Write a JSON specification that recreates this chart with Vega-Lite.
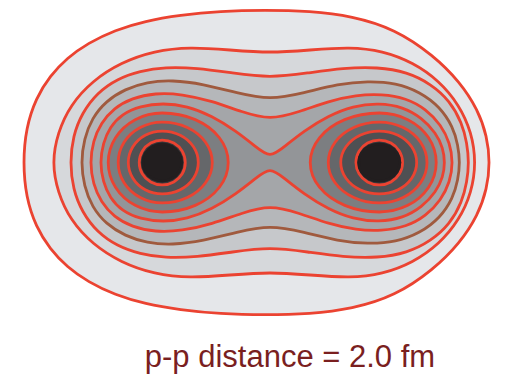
{
"$schema": "https://vega.github.io/schema/vega-lite/v6.json",
"width": 507, "height": 384,
"autosize": {"type": "fit", "contains": "padding"},
"padding": 0,
"background": "white",
"config": {"view": {"stroke": null}},
"datasets": {
"outer": [
{"c":"c01","i":1,"x":-2.283,"y":0},{"c":"c01","i":2,"x":-2.256,"y":0.318},{"c":"c01","i":3,"x":-2.164,"y":0.594},{"c":"c01","i":4,"x":-2.035,"y":0.797},{"c":"c01","i":5,"x":-1.878,"y":0.963},{"c":"c01","i":6,"x":-1.684,"y":1.101},{"c":"c01","i":7,"x":-1.435,"y":1.221},{"c":"c01","i":8,"x":-1.159,"y":1.304},{"c":"c01","i":9,"x":-0.836,"y":1.359},{"c":"c01","i":10,"x":-0.468,"y":1.396},{"c":"c01","i":11,"x":-0.053,"y":1.406},{"c":"c01","i":12,"x":0.362,"y":1.396},{"c":"c01","i":13,"x":0.749,"y":1.350},{"c":"c01","i":14,"x":1.145,"y":1.230},{"c":"c01","i":15,"x":1.495,"y":0.991},{"c":"c01","i":16,"x":1.744,"y":0.742},{"c":"c01","i":17,"x":1.910,"y":0.484},{"c":"c01","i":18,"x":1.993,"y":0.244},{"c":"c01","i":19,"x":2.021,"y":0},{"c":"c01","i":20,"x":1.993,"y":-0.244},{"c":"c01","i":21,"x":1.910,"y":-0.484},{"c":"c01","i":22,"x":1.744,"y":-0.742},{"c":"c01","i":23,"x":1.495,"y":-0.991},{"c":"c01","i":24,"x":1.145,"y":-1.230},{"c":"c01","i":25,"x":0.749,"y":-1.350},{"c":"c01","i":26,"x":0.362,"y":-1.396},{"c":"c01","i":27,"x":-0.053,"y":-1.406},{"c":"c01","i":28,"x":-0.468,"y":-1.396},{"c":"c01","i":29,"x":-0.836,"y":-1.359},{"c":"c01","i":30,"x":-1.159,"y":-1.304},{"c":"c01","i":31,"x":-1.435,"y":-1.221},{"c":"c01","i":32,"x":-1.684,"y":-1.101},{"c":"c01","i":33,"x":-1.878,"y":-0.963},{"c":"c01","i":34,"x":-2.035,"y":-0.797},{"c":"c01","i":35,"x":-2.164,"y":-0.594},{"c":"c01","i":36,"x":-2.256,"y":-0.318},
{"c":"c02","i":1,"x":-2.016,"y":0},{"c":"c02","i":2,"x":-1.964,"y":0.276},{"c":"c02","i":3,"x":-1.846,"y":0.532},{"c":"c02","i":4,"x":-1.644,"y":0.753},{"c":"c02","i":5,"x":-1.380,"y":0.922},{"c":"c02","i":6,"x":-1.073,"y":1.029},{"c":"c02","i":7,"x":-0.744,"y":1.065},{"c":"c02","i":8,"x":-0.376,"y":1.037},{"c":"c02","i":9,"x":-0.007,"y":1.009},{"c":"c02","i":10,"x":0.362,"y":1.037},{"c":"c02","i":11,"x":0.730,"y":1.065},{"c":"c02","i":12,"x":1.031,"y":1.029},{"c":"c02","i":13,"x":1.311,"y":0.922},{"c":"c02","i":14,"x":1.552,"y":0.753},{"c":"c02","i":15,"x":1.736,"y":0.532},{"c":"c02","i":16,"x":1.852,"y":0.276},{"c":"c02","i":17,"x":1.892,"y":0},{"c":"c02","i":18,"x":1.852,"y":-0.276},{"c":"c02","i":19,"x":1.736,"y":-0.532},{"c":"c02","i":20,"x":1.552,"y":-0.753},{"c":"c02","i":21,"x":1.311,"y":-0.922},{"c":"c02","i":22,"x":1.031,"y":-1.029},{"c":"c02","i":23,"x":0.730,"y":-1.065},{"c":"c02","i":24,"x":0.362,"y":-1.037},{"c":"c02","i":25,"x":-0.007,"y":-1.009},{"c":"c02","i":26,"x":-0.376,"y":-1.037},{"c":"c02","i":27,"x":-0.744,"y":-1.065},{"c":"c02","i":28,"x":-1.073,"y":-1.029},{"c":"c02","i":29,"x":-1.380,"y":-0.922},{"c":"c02","i":30,"x":-1.644,"y":-0.753},{"c":"c02","i":31,"x":-1.846,"y":-0.532},{"c":"c02","i":32,"x":-1.964,"y":-0.276},
{"c":"c03","i":1,"x":-1.850,"y":0},{"c":"c03","i":2,"x":-1.823,"y":0.244},{"c":"c03","i":3,"x":-1.740,"y":0.456},{"c":"c03","i":4,"x":-1.601,"y":0.641},{"c":"c03","i":5,"x":-1.417,"y":0.770},{"c":"c03","i":6,"x":-1.205,"y":0.843},{"c":"c03","i":7,"x":-0.975,"y":0.880},{"c":"c03","i":8,"x":-0.680,"y":0.871},{"c":"c03","i":9,"x":-0.357,"y":0.825},{"c":"c03","i":10,"x":-0.007,"y":0.779},{"c":"c03","i":11,"x":0.343,"y":0.825},{"c":"c03","i":12,"x":0.666,"y":0.871},{"c":"c03","i":13,"x":0.988,"y":0.880},{"c":"c03","i":14,"x":1.256,"y":0.834},{"c":"c03","i":15,"x":1.477,"y":0.724},{"c":"c03","i":16,"x":1.652,"y":0.567},{"c":"c03","i":17,"x":1.763,"y":0.364},{"c":"c03","i":18,"x":1.809,"y":0.180},{"c":"c03","i":19,"x":1.827,"y":0},{"c":"c03","i":20,"x":1.809,"y":-0.180},{"c":"c03","i":21,"x":1.763,"y":-0.364},{"c":"c03","i":22,"x":1.652,"y":-0.567},{"c":"c03","i":23,"x":1.477,"y":-0.724},{"c":"c03","i":24,"x":1.256,"y":-0.834},{"c":"c03","i":25,"x":0.988,"y":-0.880},{"c":"c03","i":26,"x":0.666,"y":-0.871},{"c":"c03","i":27,"x":0.343,"y":-0.825},{"c":"c03","i":28,"x":-0.007,"y":-0.779},{"c":"c03","i":29,"x":-0.357,"y":-0.825},{"c":"c03","i":30,"x":-0.680,"y":-0.871},{"c":"c03","i":31,"x":-0.975,"y":-0.880},{"c":"c03","i":32,"x":-1.205,"y":-0.843},{"c":"c03","i":33,"x":-1.417,"y":-0.770},{"c":"c03","i":34,"x":-1.601,"y":-0.641},{"c":"c03","i":35,"x":-1.740,"y":-0.456},{"c":"c03","i":36,"x":-1.823,"y":-0.244},
{"c":"c04","i":1,"x":-1.749,"y":0},{"c":"c04","i":2,"x":-1.721,"y":0.217},{"c":"c04","i":3,"x":-1.647,"y":0.410},{"c":"c04","i":4,"x":-1.518,"y":0.567},{"c":"c04","i":5,"x":-1.343,"y":0.677},{"c":"c04","i":6,"x":-1.141,"y":0.742},{"c":"c04","i":7,"x":-0.910,"y":0.760},{"c":"c04","i":8,"x":-0.624,"y":0.724},{"c":"c04","i":9,"x":-0.311,"y":0.641},{"c":"c04","i":10,"x":-0.007,"y":0.576},{"c":"c04","i":11,"x":0.306,"y":0.641},{"c":"c04","i":12,"x":0.620,"y":0.724},{"c":"c04","i":13,"x":0.896,"y":0.751},{"c":"c04","i":14,"x":1.154,"y":0.733},{"c":"c04","i":15,"x":1.376,"y":0.650},{"c":"c04","i":16,"x":1.560,"y":0.512},{"c":"c04","i":17,"x":1.680,"y":0.327},{"c":"c04","i":18,"x":1.726,"y":0.161},{"c":"c04","i":19,"x":1.744,"y":0},{"c":"c04","i":20,"x":1.726,"y":-0.161},{"c":"c04","i":21,"x":1.680,"y":-0.327},{"c":"c04","i":22,"x":1.560,"y":-0.512},{"c":"c04","i":23,"x":1.376,"y":-0.650},{"c":"c04","i":24,"x":1.154,"y":-0.733},{"c":"c04","i":25,"x":0.896,"y":-0.751},{"c":"c04","i":26,"x":0.620,"y":-0.724},{"c":"c04","i":27,"x":0.306,"y":-0.641},{"c":"c04","i":28,"x":-0.007,"y":-0.576},{"c":"c04","i":29,"x":-0.311,"y":-0.641},{"c":"c04","i":30,"x":-0.624,"y":-0.724},{"c":"c04","i":31,"x":-0.910,"y":-0.760},{"c":"c04","i":32,"x":-1.141,"y":-0.742},{"c":"c04","i":33,"x":-1.343,"y":-0.677},{"c":"c04","i":34,"x":-1.518,"y":-0.567},{"c":"c04","i":35,"x":-1.647,"y":-0.410},{"c":"c04","i":36,"x":-1.721,"y":-0.217},
{"c":"c05","i":1,"x":-1.666,"y":0},{"c":"c05","i":2,"x":-1.638,"y":0.198},{"c":"c05","i":3,"x":-1.565,"y":0.364},{"c":"c05","i":4,"x":-1.445,"y":0.502},{"c":"c05","i":5,"x":-1.279,"y":0.594},{"c":"c05","i":6,"x":-1.067,"y":0.641},{"c":"c05","i":7,"x":-0.818,"y":0.631},{"c":"c05","i":8,"x":-0.541,"y":0.567},{"c":"c05","i":9,"x":-0.265,"y":0.465},{"c":"c05","i":10,"x":-0.007,"y":0.392},{"c":"c05","i":11,"x":0.260,"y":0.465},{"c":"c05","i":12,"x":0.537,"y":0.567},{"c":"c05","i":13,"x":0.786,"y":0.622},{"c":"c05","i":14,"x":1.025,"y":0.631},{"c":"c05","i":15,"x":1.247,"y":0.594},{"c":"c05","i":16,"x":1.431,"y":0.493},{"c":"c05","i":17,"x":1.569,"y":0.346},{"c":"c05","i":18,"x":1.652,"y":0.180},{"c":"c05","i":19,"x":1.680,"y":0},{"c":"c05","i":20,"x":1.652,"y":-0.180},{"c":"c05","i":21,"x":1.569,"y":-0.346},{"c":"c05","i":22,"x":1.431,"y":-0.493},{"c":"c05","i":23,"x":1.247,"y":-0.594},{"c":"c05","i":24,"x":1.025,"y":-0.631},{"c":"c05","i":25,"x":0.786,"y":-0.622},{"c":"c05","i":26,"x":0.537,"y":-0.567},{"c":"c05","i":27,"x":0.260,"y":-0.465},{"c":"c05","i":28,"x":-0.007,"y":-0.392},{"c":"c05","i":29,"x":-0.265,"y":-0.465},{"c":"c05","i":30,"x":-0.541,"y":-0.567},{"c":"c05","i":31,"x":-0.818,"y":-0.631},{"c":"c05","i":32,"x":-1.067,"y":-0.641},{"c":"c05","i":33,"x":-1.279,"y":-0.594},{"c":"c05","i":34,"x":-1.445,"y":-0.502},{"c":"c05","i":35,"x":-1.565,"y":-0.364},{"c":"c05","i":36,"x":-1.638,"y":-0.198},
{"c":"c06","i":1,"x":-1.574,"y":0},{"c":"c06","i":2,"x":-1.546,"y":0.180},{"c":"c06","i":3,"x":-1.482,"y":0.327},{"c":"c06","i":4,"x":-1.371,"y":0.447},{"c":"c06","i":5,"x":-1.205,"y":0.521},{"c":"c06","i":6,"x":-0.993,"y":0.548},{"c":"c06","i":7,"x":-0.772,"y":0.521},{"c":"c06","i":8,"x":-0.541,"y":0.429},{"c":"c06","i":9,"x":-0.320,"y":0.290},{"c":"c06","i":10,"x":-0.136,"y":0.143},{"c":"c06","i":11,"x":-0.007,"y":0.040},{"c":"c06","i":12,"x":0.122,"y":0.143},{"c":"c06","i":13,"x":0.306,"y":0.290},{"c":"c06","i":14,"x":0.528,"y":0.429},{"c":"c06","i":15,"x":0.758,"y":0.521},{"c":"c06","i":16,"x":0.998,"y":0.548},{"c":"c06","i":17,"x":1.219,"y":0.512},{"c":"c06","i":18,"x":1.394,"y":0.410},{"c":"c06","i":19,"x":1.523,"y":0.272},{"c":"c06","i":20,"x":1.588,"y":0.134},{"c":"c06","i":21,"x":1.606,"y":0},{"c":"c06","i":22,"x":1.588,"y":-0.134},{"c":"c06","i":23,"x":1.523,"y":-0.272},{"c":"c06","i":24,"x":1.394,"y":-0.410},{"c":"c06","i":25,"x":1.219,"y":-0.512},{"c":"c06","i":26,"x":0.998,"y":-0.548},{"c":"c06","i":27,"x":0.758,"y":-0.521},{"c":"c06","i":28,"x":0.528,"y":-0.429},{"c":"c06","i":29,"x":0.306,"y":-0.290},{"c":"c06","i":30,"x":0.122,"y":-0.143},{"c":"c06","i":31,"x":-0.007,"y":-0.040},{"c":"c06","i":32,"x":-0.136,"y":-0.143},{"c":"c06","i":33,"x":-0.320,"y":-0.290},{"c":"c06","i":34,"x":-0.541,"y":-0.429},{"c":"c06","i":35,"x":-0.772,"y":-0.521},{"c":"c06","i":36,"x":-0.993,"y":-0.548},{"c":"c06","i":37,"x":-1.205,"y":-0.521},{"c":"c06","i":38,"x":-1.371,"y":-0.447},{"c":"c06","i":39,"x":-1.482,"y":-0.327},{"c":"c06","i":40,"x":-1.546,"y":-0.180}
],
"rings": [
{"c":"c07L","i":1,"x":-1.498,"y":0},{"c":"c07L","i":2,"x":-1.431,"y":0.228},{"c":"c07L","i":3,"x":-1.249,"y":0.395},{"c":"c07L","i":4,"x":-1,"y":0.456},{"c":"c07L","i":5,"x":-0.696,"y":0.395},{"c":"c07L","i":6,"x":-0.473,"y":0.228},{"c":"c07L","i":7,"x":-0.392,"y":0},{"c":"c07L","i":8,"x":-0.473,"y":-0.228},{"c":"c07L","i":9,"x":-0.696,"y":-0.395},{"c":"c07L","i":10,"x":-1,"y":-0.456},{"c":"c07L","i":11,"x":-1.249,"y":-0.395},{"c":"c07L","i":12,"x":-1.431,"y":-0.228},
{"c":"c07R","i":1,"x":1.525,"y":0},{"c":"c07R","i":2,"x":1.455,"y":0.228},{"c":"c07R","i":3,"x":1.263,"y":0.395},{"c":"c07R","i":4,"x":1,"y":0.456},{"c":"c07R","i":5,"x":0.682,"y":0.395},{"c":"c07R","i":6,"x":0.449,"y":0.228},{"c":"c07R","i":7,"x":0.364,"y":0},{"c":"c07R","i":8,"x":0.449,"y":-0.228},{"c":"c07R","i":9,"x":0.682,"y":-0.395},{"c":"c07R","i":10,"x":1,"y":-0.456},{"c":"c07R","i":11,"x":1.263,"y":-0.395},{"c":"c07R","i":12,"x":1.455,"y":-0.228},
{"c":"c08L","i":1,"x":-1.406,"y":0},{"c":"c08L","i":2,"x":-1.352,"y":0.187},{"c":"c08L","i":3,"x":-1.203,"y":0.323},{"c":"c08L","i":4,"x":-1,"y":0.373},{"c":"c08L","i":5,"x":-0.769,"y":0.323},{"c":"c08L","i":6,"x":-0.601,"y":0.187},{"c":"c08L","i":7,"x":-0.539,"y":0},{"c":"c08L","i":8,"x":-0.601,"y":-0.187},{"c":"c08L","i":9,"x":-0.769,"y":-0.323},{"c":"c08L","i":10,"x":-1,"y":-0.373},{"c":"c08L","i":11,"x":-1.203,"y":-0.323},{"c":"c08L","i":12,"x":-1.352,"y":-0.187},
{"c":"c08R","i":1,"x":1.44,"y":0},{"c":"c08R","i":2,"x":1.381,"y":0.187},{"c":"c08R","i":3,"x":1.22,"y":0.323},{"c":"c08R","i":4,"x":1,"y":0.373},{"c":"c08R","i":5,"x":0.765,"y":0.323},{"c":"c08R","i":6,"x":0.593,"y":0.187},{"c":"c08R","i":7,"x":0.53,"y":0},{"c":"c08R","i":8,"x":0.593,"y":-0.187},{"c":"c08R","i":9,"x":0.765,"y":-0.323},{"c":"c08R","i":10,"x":1,"y":-0.373},{"c":"c08R","i":11,"x":1.22,"y":-0.323},{"c":"c08R","i":12,"x":1.381,"y":-0.187},
{"c":"c09L","i":1,"x":-1.313,"y":0},{"c":"c09L","i":2,"x":-1.271,"y":0.145},{"c":"c09L","i":3,"x":-1.157,"y":0.251},{"c":"c09L","i":4,"x":-1,"y":0.29},{"c":"c09L","i":5,"x":-0.834,"y":0.251},{"c":"c09L","i":6,"x":-0.712,"y":0.145},{"c":"c09L","i":7,"x":-0.668,"y":0},{"c":"c09L","i":8,"x":-0.712,"y":-0.145},{"c":"c09L","i":9,"x":-0.834,"y":-0.251},{"c":"c09L","i":10,"x":-1,"y":-0.29},{"c":"c09L","i":11,"x":-1.157,"y":-0.251},{"c":"c09L","i":12,"x":-1.271,"y":-0.145},
{"c":"c09R","i":1,"x":1.345,"y":0},{"c":"c09R","i":2,"x":1.299,"y":0.145},{"c":"c09R","i":3,"x":1.173,"y":0.251},{"c":"c09R","i":4,"x":1,"y":0.29},{"c":"c09R","i":5,"x":0.823,"y":0.251},{"c":"c09R","i":6,"x":0.693,"y":0.145},{"c":"c09R","i":7,"x":0.645,"y":0},{"c":"c09R","i":8,"x":0.693,"y":-0.145},{"c":"c09R","i":9,"x":0.823,"y":-0.251},{"c":"c09R","i":10,"x":1,"y":-0.29},{"c":"c09R","i":11,"x":1.173,"y":-0.251},{"c":"c09R","i":12,"x":1.299,"y":-0.145},
{"c":"c10L","i":1,"x":-1.212,"y":0},{"c":"c10L","i":2,"x":-1.184,"y":0.104},{"c":"c10L","i":3,"x":-1.106,"y":0.179},{"c":"c10L","i":4,"x":-1,"y":0.207},{"c":"c10L","i":5,"x":-0.894,"y":0.179},{"c":"c10L","i":6,"x":-0.816,"y":0.104},{"c":"c10L","i":7,"x":-0.788,"y":0},{"c":"c10L","i":8,"x":-0.816,"y":-0.104},{"c":"c10L","i":9,"x":-0.894,"y":-0.179},{"c":"c10L","i":10,"x":-1,"y":-0.207},{"c":"c10L","i":11,"x":-1.106,"y":-0.179},{"c":"c10L","i":12,"x":-1.184,"y":-0.104},
{"c":"c10R","i":1,"x":1.215,"y":0},{"c":"c10R","i":2,"x":1.186,"y":0.104},{"c":"c10R","i":3,"x":1.108,"y":0.179},{"c":"c10R","i":4,"x":1,"y":0.207},{"c":"c10R","i":5,"x":0.892,"y":0.179},{"c":"c10R","i":6,"x":0.814,"y":0.104},{"c":"c10R","i":7,"x":0.785,"y":0},{"c":"c10R","i":8,"x":0.814,"y":-0.104},{"c":"c10R","i":9,"x":0.892,"y":-0.179},{"c":"c10R","i":10,"x":1,"y":-0.207},{"c":"c10R","i":11,"x":1.108,"y":-0.179},{"c":"c10R","i":12,"x":1.186,"y":-0.104},
{"c":"c11L","i":1,"x":-1.18,"y":0},{"c":"c11L","i":2,"x":-1.156,"y":0.086},{"c":"c11L","i":3,"x":-1.09,"y":0.148},{"c":"c11L","i":4,"x":-1,"y":0.171},{"c":"c11L","i":5,"x":-0.91,"y":0.148},{"c":"c11L","i":6,"x":-0.844,"y":0.086},{"c":"c11L","i":7,"x":-0.82,"y":0},{"c":"c11L","i":8,"x":-0.844,"y":-0.086},{"c":"c11L","i":9,"x":-0.91,"y":-0.148},{"c":"c11L","i":10,"x":-1,"y":-0.171},{"c":"c11L","i":11,"x":-1.09,"y":-0.148},{"c":"c11L","i":12,"x":-1.156,"y":-0.086},
{"c":"c11R","i":1,"x":1.19,"y":0},{"c":"c11R","i":2,"x":1.165,"y":0.086},{"c":"c11R","i":3,"x":1.095,"y":0.149},{"c":"c11R","i":4,"x":1,"y":0.172},{"c":"c11R","i":5,"x":0.905,"y":0.149},{"c":"c11R","i":6,"x":0.835,"y":0.086},{"c":"c11R","i":7,"x":0.81,"y":0},{"c":"c11R","i":8,"x":0.835,"y":-0.086},{"c":"c11R","i":9,"x":0.905,"y":-0.149},{"c":"c11R","i":10,"x":1,"y":-0.172},{"c":"c11R","i":11,"x":1.095,"y":-0.149},{"c":"c11R","i":12,"x":1.165,"y":-0.086}
],
"labels": [{"x": 0.177, "y": -1.885, "label": "p-p distance = 2.0 fm"}]
},
"encoding": {
"x": {"field": "x", "type": "quantitative", "scale": {"domain": [-2.4954, 2.1774], "nice": false, "zero": false}, "axis": null},
"y": {"field": "y", "type": "quantitative", "scale": {"domain": [-2.0415, 1.4977], "nice": false, "zero": false}, "axis": null}
},
"layer": [
{
"data": {"name": "outer"},
"mark": {"type": "line", "interpolate": "basis-closed", "strokeWidth": 2.8, "strokeJoin": "round"},
"encoding": {
"order": {"field": "i", "type": "quantitative"},
"fill": {"field": "c", "type": "nominal", "legend": null, "scale": {
"domain": ["c01","c02","c03","c04","c05","c06","c07L","c07R","c08L","c08R","c09L","c09R","c10L","c10R","c11L","c11R"],
"range": ["#e5e7ea","#d6d8db","#c6c8cb","#b5b7ba","#a4a6a9","#939598","#7c7e81","#7c7e81","#65676a","#65676a","#4f5053","#4f5053","#38383b","#38383b","#221e1f","#221e1f"]}},
"stroke": {"field": "c", "type": "nominal", "legend": null, "scale": {
"domain": ["c01","c02","c03","c04","c05","c06","c07L","c07R","c08L","c08R","c09L","c09R","c10L","c10R","c11L","c11R"],
"range": ["#eb4331","#eb4331","#eb4331","#a05a3e","#eb4331","#eb4331","#eb4331","#eb4331","#eb4331","#eb4331","#eb4331","#eb4331","#eb4331","#eb4331","#221e1f","#221e1f"]}}
}
},
{
"data": {"name": "rings"},
"mark": {"type": "line", "interpolate": "cardinal-closed", "strokeWidth": 2.8, "strokeJoin": "round"},
"encoding": {
"order": {"field": "i", "type": "quantitative"},
"fill": {"field": "c", "type": "nominal", "legend": null, "scale": {
"domain": ["c01","c02","c03","c04","c05","c06","c07L","c07R","c08L","c08R","c09L","c09R","c10L","c10R","c11L","c11R"],
"range": ["#e5e7ea","#d6d8db","#c6c8cb","#b5b7ba","#a4a6a9","#939598","#7c7e81","#7c7e81","#65676a","#65676a","#4f5053","#4f5053","#38383b","#38383b","#221e1f","#221e1f"]}},
"stroke": {"field": "c", "type": "nominal", "legend": null, "scale": {
"domain": ["c01","c02","c03","c04","c05","c06","c07L","c07R","c08L","c08R","c09L","c09R","c10L","c10R","c11L","c11R"],
"range": ["#eb4331","#eb4331","#eb4331","#a05a3e","#eb4331","#eb4331","#eb4331","#eb4331","#eb4331","#eb4331","#eb4331","#eb4331","#eb4331","#eb4331","#221e1f","#221e1f"]}}
}
},
{
"data": {"name": "labels"},
"mark": {"type": "text", "align": "center", "baseline": "alphabetic", "font": "Liberation Sans", "fontSize": 31, "fill": "#7a1f1f"},
"encoding": {"text": {"field": "label"}}
}
]
}
